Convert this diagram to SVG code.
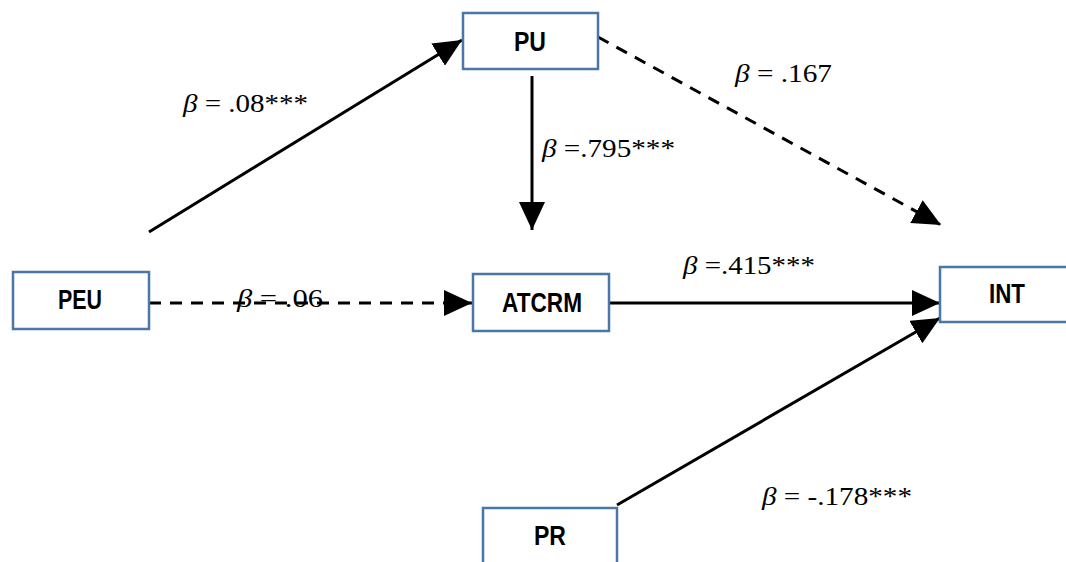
<svg xmlns="http://www.w3.org/2000/svg" width="1066" height="562" viewBox="0 0 1066 562">
<style>
.box{fill:#fff;stroke:#4a76a8;stroke-width:2.5}
.lbl{font-family:"Liberation Sans",Arial,sans-serif;font-weight:bold;font-size:27px;fill:#000;text-anchor:middle}
.coef{font-family:"Liberation Serif","Times New Roman",serif;font-size:26px;fill:#000}
.ln{stroke:#000;stroke-width:3;fill:none}
.dash{stroke-dasharray:12 9}
</style>
<defs>
<marker id="ah" markerUnits="userSpaceOnUse" markerWidth="30" markerHeight="26" refX="28" refY="13" orient="auto">
<path d="M0,0 L28,13 L0,26 Z" fill="#000"/>
</marker>
</defs>
<g id="connectors">
<line class="ln" x1="149" y1="232" x2="462" y2="40" marker-end="url(#ah)"/>
<line class="ln" x1="532" y1="76" x2="532" y2="230" marker-end="url(#ah)"/>
<line class="ln dash" x1="598" y1="37" x2="941" y2="225" marker-end="url(#ah)"/>
<line class="ln dash" x1="149" y1="303" x2="472" y2="303" marker-end="url(#ah)"/>
<line class="ln" x1="609" y1="303" x2="940" y2="303" marker-end="url(#ah)"/>
<line class="ln" x1="617" y1="505" x2="940" y2="318" marker-end="url(#ah)"/>
</g>
<g id="node-PU"><rect class="box" x="463" y="13" width="135" height="56"/><text class="lbl" x="530" y="51" textLength="32" lengthAdjust="spacingAndGlyphs">PU</text></g>
<g id="node-PEU"><rect class="box" x="13" y="272" width="136" height="57"/><text class="lbl" x="80" y="309" textLength="44" lengthAdjust="spacingAndGlyphs">PEU</text></g>
<g id="node-ATCRM"><rect class="box" x="473" y="274" width="136" height="57"/><text class="lbl" x="542" y="312" textLength="80" lengthAdjust="spacingAndGlyphs">ATCRM</text></g>
<g id="node-INT"><rect class="box" x="940" y="267" width="135" height="55"/><text class="lbl" x="1007" y="303" textLength="36" lengthAdjust="spacingAndGlyphs">INT</text></g>
<g id="node-PR"><rect class="box" x="483" y="508" width="134" height="70"/><text class="lbl" x="550" y="545" textLength="32" lengthAdjust="spacingAndGlyphs">PR</text></g>
<g id="labels">
<text class="coef" x="183" y="112" textLength="125" lengthAdjust="spacingAndGlyphs"><tspan font-style="italic">β</tspan> = .08***</text>
<text class="coef" x="542" y="157" textLength="133" lengthAdjust="spacingAndGlyphs"><tspan font-style="italic">β</tspan> =.795***</text>
<text class="coef" x="735" y="82" textLength="97" lengthAdjust="spacingAndGlyphs"><tspan font-style="italic">β</tspan> = .167</text>
<text class="coef" x="683" y="274" textLength="132" lengthAdjust="spacingAndGlyphs"><tspan font-style="italic">β</tspan> =.415***</text>
<text class="coef" x="237" y="307" textLength="86" lengthAdjust="spacingAndGlyphs"><tspan font-style="italic">β</tspan> = .06</text>
<text class="coef" x="762" y="505" textLength="150" lengthAdjust="spacingAndGlyphs"><tspan font-style="italic">β</tspan> = -.178***</text>
</g>
</svg>
